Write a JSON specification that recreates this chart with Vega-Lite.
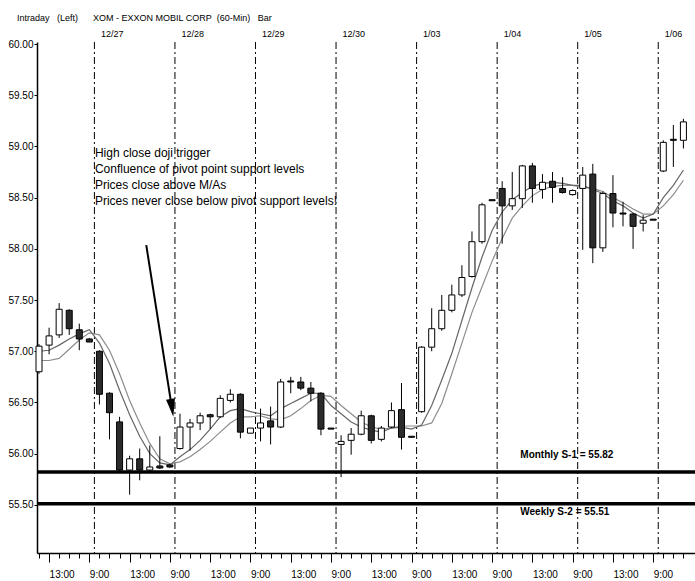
{
  "$schema": "https://vega.github.io/schema/vega-lite/v6.json",
  "width": 658,
  "height": 511,
  "autosize": {"type": "none"},
  "padding": {"left": 37, "top": 42, "right": 0, "bottom": 28},
  "background": "white",
  "title": {
    "text": "Intraday\u00a0\u00a0\u00a0(Left)\u00a0\u00a0\u00a0\u00a0\u00a0\u00a0XOM - EXXON MOBIL CORP\u00a0\u00a0(60-Min)\u00a0\u00a0\u00a0Bar",
    "anchor": "start",
    "frame": "group",
    "dx": -20,
    "offset": 6,
    "fontSize": 9,
    "fontWeight": "normal",
    "font": "Liberation Sans",
    "color": "black"
  },
  "config": {
    "view": {"stroke": null},
    "font": "Liberation Sans",
    "axis": {"labelFont": "Liberation Sans", "labelColor": "black", "domainColor": "black", "tickColor": "black", "grid": false}
  },
  "datasets": {
    "bars": [
      {"i":0,"o":56.80,"h":57.07,"l":56.78,"c":57.05},
      {"i":1,"o":57.06,"h":57.23,"l":56.97,"c":57.15},
      {"i":2,"o":57.16,"h":57.47,"l":57.13,"c":57.41},
      {"i":3,"o":57.40,"h":57.41,"l":57.16,"c":57.22},
      {"i":4,"o":57.21,"h":57.27,"l":57.01,"c":57.12},
      {"i":5,"o":57.12,"h":57.13,"l":57.09,"c":57.09},
      {"i":6,"o":57.00,"h":57.01,"l":56.48,"c":56.58},
      {"i":7,"o":56.59,"h":56.60,"l":56.14,"c":56.40},
      {"i":8,"o":56.31,"h":56.36,"l":55.83,"c":55.84},
      {"i":9,"o":55.84,"h":55.98,"l":55.60,"c":55.95},
      {"i":10,"o":55.95,"h":56.05,"l":55.74,"c":55.84},
      {"i":11,"o":55.84,"h":56.08,"l":55.83,"c":55.87},
      {"i":12,"o":55.88,"h":56.17,"l":55.85,"c":55.86},
      {"i":13,"o":55.89,"h":55.90,"l":55.86,"c":55.87},
      {"i":14,"o":56.05,"h":56.39,"l":56.04,"c":56.26},
      {"i":15,"o":56.26,"h":56.34,"l":56.03,"c":56.30},
      {"i":16,"o":56.30,"h":56.40,"l":56.23,"c":56.37},
      {"i":17,"o":56.38,"h":56.39,"l":56.24,"c":56.36},
      {"i":18,"o":56.36,"h":56.57,"l":56.35,"c":56.54},
      {"i":19,"o":56.52,"h":56.63,"l":56.50,"c":56.58},
      {"i":20,"o":56.58,"h":56.59,"l":56.15,"c":56.21},
      {"i":21,"o":56.20,"h":56.25,"l":56.20,"c":56.25},
      {"i":22,"o":56.25,"h":56.44,"l":56.12,"c":56.30},
      {"i":23,"o":56.32,"h":56.46,"l":56.09,"c":56.26},
      {"i":24,"o":56.26,"h":56.73,"l":56.25,"c":56.70},
      {"i":25,"o":56.71,"h":56.75,"l":56.59,"c":56.70},
      {"i":26,"o":56.70,"h":56.75,"l":56.62,"c":56.64},
      {"i":27,"o":56.64,"h":56.70,"l":56.51,"c":56.59},
      {"i":28,"o":56.59,"h":56.60,"l":56.18,"c":56.24},
      {"i":29,"o":56.25,"h":56.25,"l":56.24,"c":56.24},
      {"i":30,"o":56.09,"h":56.18,"l":55.77,"c":56.12},
      {"i":31,"o":56.13,"h":56.25,"l":55.99,"c":56.19},
      {"i":32,"o":56.19,"h":56.42,"l":56.18,"c":56.37},
      {"i":33,"o":56.37,"h":56.38,"l":56.10,"c":56.13},
      {"i":34,"o":56.14,"h":56.27,"l":56.12,"c":56.25},
      {"i":35,"o":56.26,"h":56.50,"l":56.25,"c":56.42},
      {"i":36,"o":56.43,"h":56.69,"l":56.04,"c":56.16},
      {"i":37,"o":56.17,"h":56.17,"l":56.16,"c":56.16},
      {"i":38,"o":56.41,"h":57.05,"l":56.40,"c":57.04},
      {"i":39,"o":57.04,"h":57.42,"l":57.00,"c":57.22},
      {"i":40,"o":57.22,"h":57.55,"l":57.20,"c":57.40},
      {"i":41,"o":57.40,"h":57.65,"l":57.38,"c":57.55},
      {"i":42,"o":57.55,"h":57.84,"l":57.53,"c":57.72},
      {"i":43,"o":57.73,"h":58.17,"l":57.72,"c":58.07},
      {"i":44,"o":58.07,"h":58.45,"l":58.05,"c":58.43},
      {"i":45,"o":58.48,"h":58.48,"l":58.47,"c":58.47},
      {"i":46,"o":58.59,"h":58.66,"l":58.05,"c":58.42},
      {"i":47,"o":58.42,"h":58.75,"l":58.38,"c":58.49},
      {"i":48,"o":58.49,"h":58.82,"l":58.40,"c":58.81},
      {"i":49,"o":58.81,"h":58.84,"l":58.45,"c":58.59},
      {"i":50,"o":58.58,"h":58.73,"l":58.49,"c":58.65},
      {"i":51,"o":58.66,"h":58.75,"l":58.45,"c":58.60},
      {"i":52,"o":58.59,"h":58.70,"l":58.54,"c":58.55},
      {"i":53,"o":58.53,"h":58.58,"l":58.52,"c":58.57},
      {"i":54,"o":58.59,"h":58.80,"l":57.99,"c":58.72},
      {"i":55,"o":58.73,"h":58.83,"l":57.86,"c":58.01},
      {"i":56,"o":58.01,"h":58.56,"l":57.97,"c":58.54},
      {"i":57,"o":58.54,"h":58.72,"l":58.21,"c":58.35},
      {"i":58,"o":58.35,"h":58.46,"l":58.22,"c":58.34},
      {"i":59,"o":58.34,"h":58.35,"l":58.00,"c":58.22},
      {"i":60,"o":58.25,"h":58.33,"l":58.17,"c":58.28},
      {"i":61,"o":58.29,"h":58.29,"l":58.28,"c":58.28},
      {"i":62,"o":58.76,"h":59.06,"l":58.75,"c":59.04},
      {"i":63,"o":59.07,"h":59.21,"l":58.80,"c":59.06},
      {"i":64,"o":59.06,"h":59.27,"l":58.98,"c":59.24}
    ],
    "ma": [
      {"i":0,"f":57.00,"s":56.91},{"i":1,"f":57.01,"s":56.91},{"i":2,"f":57.06,"s":56.93},
      {"i":3,"f":57.12,"s":57.02},{"i":4,"f":57.17,"s":57.11},{"i":5,"f":57.21,"s":57.18},
      {"i":6,"f":57.08,"s":57.16},{"i":7,"f":56.88,"s":57.01},{"i":8,"f":56.62,"s":56.78},
      {"i":9,"f":56.38,"s":56.52},{"i":10,"f":56.17,"s":56.30},{"i":11,"f":56.00,"s":56.10},
      {"i":12,"f":55.91,"s":55.95},{"i":13,"f":55.89,"s":55.90},{"i":14,"f":55.97,"s":55.92},
      {"i":15,"f":56.04,"s":55.97},{"i":16,"f":56.13,"s":56.04},{"i":17,"f":56.24,"s":56.12},
      {"i":18,"f":56.36,"s":56.21},{"i":19,"f":56.42,"s":56.30},{"i":20,"f":56.44,"s":56.36},
      {"i":21,"f":56.41,"s":56.36},{"i":22,"f":56.39,"s":56.37},{"i":23,"f":56.37,"s":56.34},
      {"i":24,"f":56.44,"s":56.33},{"i":25,"f":56.49,"s":56.37},{"i":26,"f":56.54,"s":56.44},
      {"i":27,"f":56.59,"s":56.52},{"i":28,"f":56.59,"s":56.57},{"i":29,"f":56.47,"s":56.56},
      {"i":30,"f":56.39,"s":56.47},{"i":31,"f":56.31,"s":56.39},{"i":32,"f":56.26,"s":56.31},
      {"i":33,"f":56.23,"s":56.26},{"i":34,"f":56.21,"s":56.24},{"i":35,"f":56.25,"s":56.25},
      {"i":36,"f":56.26,"s":56.27},{"i":37,"f":56.24,"s":56.27},{"i":38,"f":56.28,"s":56.27},
      {"i":39,"f":56.47,"s":56.30},{"i":40,"f":56.72,"s":56.49},{"i":41,"f":56.98,"s":56.78},
      {"i":42,"f":57.30,"s":57.08},{"i":43,"f":57.62,"s":57.38},{"i":44,"f":57.92,"s":57.63},
      {"i":45,"f":58.18,"s":57.88},{"i":46,"f":58.36,"s":58.10},{"i":47,"f":58.48,"s":58.30},
      {"i":48,"f":58.55,"s":58.42},{"i":49,"f":58.61,"s":58.52},{"i":50,"f":58.64,"s":58.58},
      {"i":51,"f":58.65,"s":58.61},{"i":52,"f":58.64,"s":58.62},{"i":53,"f":58.62,"s":58.62},
      {"i":54,"f":58.62,"s":58.60},{"i":55,"f":58.58,"s":58.59},{"i":56,"f":58.54,"s":58.56},
      {"i":57,"f":58.47,"s":58.50},{"i":58,"f":58.42,"s":58.45},{"i":59,"f":58.35,"s":58.39},
      {"i":60,"f":58.30,"s":58.34},{"i":61,"f":58.34,"s":58.34},{"i":62,"f":58.50,"s":58.42},
      {"i":63,"f":58.62,"s":58.53},{"i":64,"f":58.77,"s":58.67}
    ],
    "days": [
      {"b":5.5,"d":"12/27"},{"b":13.5,"d":"12/28"},{"b":21.5,"d":"12/29"},{"b":29.5,"d":"12/30"},
      {"b":37.5,"d":"1/03"},{"b":45.5,"d":"1/04"},{"b":53.5,"d":"1/05"},{"b":61.5,"d":"1/06"}
    ],
    "levels": [
      {"name":"Monthly S-1 = 55.82","v":55.82,"xi":47.8},
      {"name":"Weekly S-2 = 55.51","v":55.51,"xi":47.8}
    ]
  },
  "layer": [
    {
      "data": {"name": "days"},
      "mark": {"type": "rule", "color": "black", "strokeWidth": 1, "strokeDash": [7, 3, 2, 3]},
      "encoding": {
        "x": {
          "field": "b", "type": "quantitative",
          "scale": {"domain": [-0.2, 65.15], "nice": false, "zero": false, "padding": 0},
          "axis": {
            "orient": "top", "title": null, "domain": false, "ticks": false, "tickSize": 0,
            "values": [5.5, 13.5, 21.5, 29.5, 37.5, 45.5, 53.5, 61.5],
            "labelExpr": "['12/27','12/28','12/29','12/30','1/03','1/04','1/05','1/06'][round((datum.value-5.5)/8)]",
            "labelAlign": "left", "labelOffset": 6, "labelPadding": 4, "labelFontSize": 9,
            "labelOverlap": false, "labelFlush": false, "labelBound": false
          }
        }
      }
    },
    {
      "data": {"name": "levels"},
      "mark": {"type": "rule", "color": "black", "strokeWidth": 3.5},
      "encoding": {
        "y": {"field": "v", "type": "quantitative", "title": null, "scale": {"domain": [55.03, 60.02], "nice": false, "zero": false}}
      }
    },
    {
      "data": {"name": "ma"},
      "mark": {"type": "line", "color": "#8c8c8c", "strokeWidth": 1.2},
      "encoding": {
        "x": {"field": "i", "type": "quantitative", "axis": null, "scale": {"domain": [-0.2, 65.15], "nice": false, "zero": false, "padding": 0}},
        "y": {"field": "s", "type": "quantitative", "title": null, "scale": {"domain": [55.03, 60.02], "nice": false, "zero": false}}
      }
    },
    {
      "data": {"name": "ma"},
      "mark": {"type": "line", "color": "#666666", "strokeWidth": 1.2},
      "encoding": {
        "x": {"field": "i", "type": "quantitative", "axis": null, "scale": {"domain": [-0.2, 65.15], "nice": false, "zero": false, "padding": 0}},
        "y": {"field": "f", "type": "quantitative", "title": null, "scale": {"domain": [55.03, 60.02], "nice": false, "zero": false}}
      }
    },
    {
      "data": {"name": "bars"},
      "mark": {"type": "rule", "color": "black", "strokeWidth": 1},
      "encoding": {
        "x": {"field": "i", "type": "quantitative", "axis": null, "scale": {"domain": [-0.2, 65.15], "nice": false, "zero": false, "padding": 0}},
        "y": {"field": "l", "type": "quantitative", "title": null, "scale": {"domain": [55.03, 60.02], "nice": false, "zero": false}},
        "y2": {"field": "h"}
      }
    },
    {
      "data": {"name": "bars"},
      "mark": {"type": "bar", "width": 6, "stroke": "black", "strokeWidth": 1},
      "encoding": {
        "x": {
          "field": "i", "type": "quantitative", "title": null,
          "scale": {"domain": [-0.2, 65.15], "nice": false, "zero": false, "padding": 0},
          "axis": {
            "orient": "bottom", "title": null, "domainWidth": 1.5,
            "values": [0,1,2,3,4,5,6,7,8,9,10,11,12,13,14,15,16,17,18,19,20,21,22,23,24,25,26,27,28,29,30,31,32,33,34,35,36,37,38,39,40,41,42,43,44,45,46,47,48,49,50,51,52,53,54,55,56,57,58,59,60,61,62,63,64],
            "tickSize": {"condition": {"test": "datum.value % 4 == 1", "value": 9}, "value": 5},
            "labelExpr": "datum.value % 8 == 1 ? '13:00' : (datum.value % 8 == 5 ? '9:00' : '')",
            "labelAlign": "left", "labelPadding": 7, "labelFontSize": 10,
            "labelOverlap": false, "labelFlush": false, "labelBound": false
          }
        },
        "y": {
          "field": "o", "type": "quantitative", "title": null,
          "scale": {"domain": [55.03, 60.02], "nice": false, "zero": false},
          "axis": {
            "title": null, "values": [55.5, 56, 56.5, 57, 57.5, 58, 58.5, 59, 59.5, 60],
            "format": ".2f", "tickSize": 3, "labelPadding": 1, "labelFontSize": 10, "domainWidth": 1.5
          }
        },
        "y2": {"field": "c"},
        "fill": {"condition": {"test": "datum.c >= datum.o", "value": "white"}, "value": "#2b2b2b"}
      }
    },
    {
      "data": {"name": "levels"},
      "transform": [{"filter": "datum.v > 55.7"}],
      "mark": {"type": "text", "align": "left", "baseline": "middle", "dy": -17, "font": "Liberation Sans", "fontWeight": "bold", "fontSize": 10, "color": "black"},
      "encoding": {
        "x": {"field": "xi", "type": "quantitative", "axis": null, "scale": {"domain": [-0.2, 65.15], "nice": false, "zero": false, "padding": 0}},
        "y": {"field": "v", "type": "quantitative", "title": null, "scale": {"domain": [55.03, 60.02], "nice": false, "zero": false}},
        "text": {"field": "name"}
      }
    },
    {
      "data": {"name": "levels"},
      "transform": [{"filter": "datum.v < 55.7"}],
      "mark": {"type": "text", "align": "left", "baseline": "middle", "dy": 8, "font": "Liberation Sans", "fontWeight": "bold", "fontSize": 10, "color": "black"},
      "encoding": {
        "x": {"field": "xi", "type": "quantitative", "axis": null, "scale": {"domain": [-0.2, 65.15], "nice": false, "zero": false, "padding": 0}},
        "y": {"field": "v", "type": "quantitative", "title": null, "scale": {"domain": [55.03, 60.02], "nice": false, "zero": false}},
        "text": {"field": "name"}
      }
    },
    {
      "data": {"values": [{}]},
      "mark": {
        "type": "text", "align": "left", "baseline": "alphabetic", "fontSize": 12, "lineHeight": 16,
        "font": "Liberation Sans", "color": "black",
        "text": ["High close doji trigger", "Confluence of pivot point support levels", "Prices close above M/As", "Prices never close below pivot support levels!"]
      },
      "encoding": {
        "x": {"datum": 5.55, "type": "quantitative", "axis": null, "scale": {"domain": [-0.2, 65.15], "nice": false, "zero": false, "padding": 0}},
        "y": {"datum": 58.894, "type": "quantitative", "title": null, "scale": {"domain": [55.03, 60.02], "nice": false, "zero": false}}
      }
    },
    {
      "data": {"values": [{}]},
      "mark": {"type": "rule", "color": "black", "strokeWidth": 2},
      "encoding": {
        "x": {"datum": 10.65, "type": "quantitative", "axis": null, "scale": {"domain": [-0.2, 65.15], "nice": false, "zero": false, "padding": 0}},
        "y": {"datum": 58.037, "type": "quantitative", "title": null, "scale": {"domain": [55.03, 60.02], "nice": false, "zero": false}},
        "x2": {"datum": 13.2},
        "y2": {"datum": 56.447}
      }
    },
    {
      "data": {"values": [{}]},
      "mark": {"type": "point", "shape": "M0,1L-0.5,-1L0.5,-1Z", "filled": true, "color": "black", "opacity": 1, "size": 324, "angle": 351},
      "encoding": {
        "x": {"datum": 13.2, "type": "quantitative", "axis": null, "scale": {"domain": [-0.2, 65.15], "nice": false, "zero": false, "padding": 0}},
        "y": {"datum": 56.447, "type": "quantitative", "title": null, "scale": {"domain": [55.03, 60.02], "nice": false, "zero": false}}
      }
    }
  ],
  "resolve": {"axis": {"x": "independent"}}
}
